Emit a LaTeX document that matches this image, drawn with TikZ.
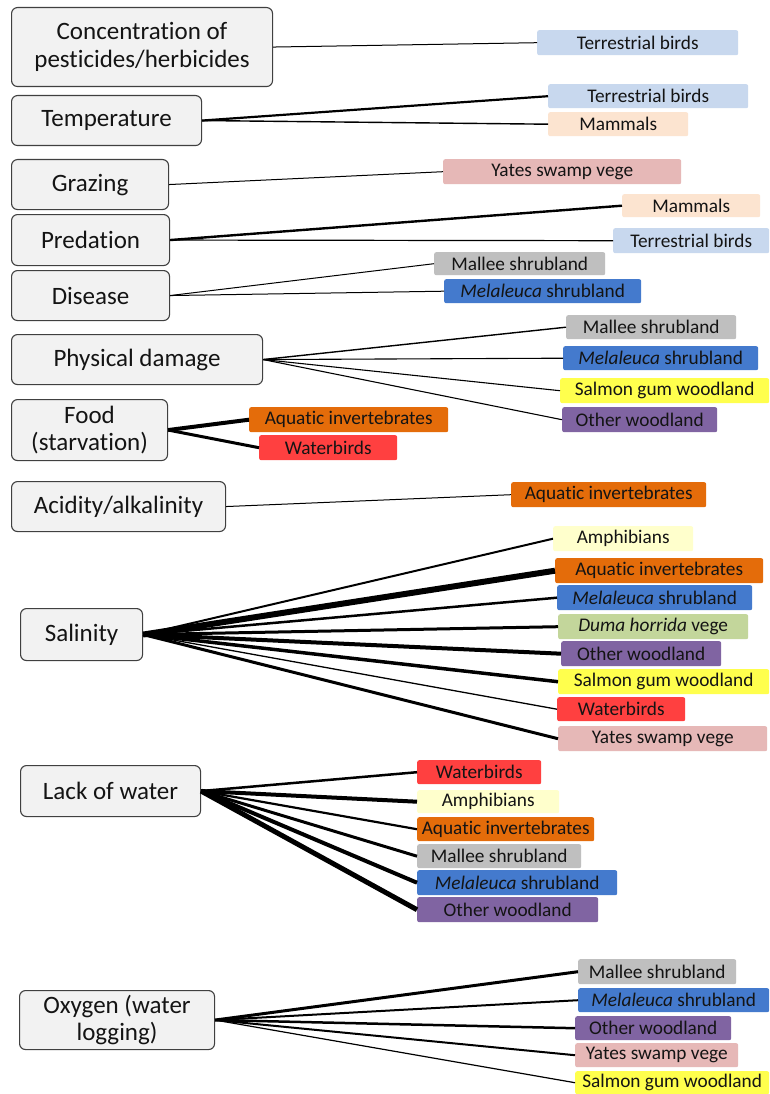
\documentclass[tikz,border=0pt]{standalone}
\usepackage{fontspec}
\setmainfont{Carlito}[Ligatures=NoCommon]
\definecolor{tbird}{RGB}{200,216,238}
\definecolor{mammal}{RGB}{252,228,208}
\definecolor{yates}{RGB}{230,184,183}
\definecolor{mallee}{RGB}{191,191,191}
\definecolor{melal}{RGB}{68,122,205}
\definecolor{salmon}{RGB}{255,255,77}
\definecolor{other}{RGB}{128,100,162}
\definecolor{aquatic}{RGB}{228,108,10}
\definecolor{waterb}{RGB}{255,64,64}
\definecolor{amph}{RGB}{255,255,204}
\definecolor{duma}{RGB}{195,214,155}
\definecolor{lfill}{RGB}{242,242,242}
\definecolor{ldraw}{RGB}{64,64,64}
\definecolor{txt}{RGB}{20,20,20}
\tikzset{
  lb/.style={draw=ldraw, fill=lfill, rounded corners=6pt, line width=1.1pt, align=center,
    font=\fontsize{25}{27.5}\selectfont, text=txt, inner sep=0pt, anchor=north west},
  rb/.style={rounded corners=2pt, inner sep=0pt, font=\fontsize{19.3}{21}\selectfont, text=txt, anchor=north west},
  cn/.style={line width=#1, black}
}
\newcommand{\lbox}[6]{\node[lb, minimum width=#3pt, minimum height=#4pt] (#1) at (#2) {#5};}
\newcommand{\rbox}[6]{\node[rb, fill=#5, minimum width=#3pt, minimum height=#4pt] (#1) at (#2) {#6};}
\begin{document}
\begin{tikzpicture}[x=1pt,y=-1pt]
\useasboundingbox (0,0) rectangle (769,1094);
\fill[white] (0,0) rectangle (769,1094);
% left boxes
\lbox{conc}{11,7}{261}{79}{Concentration of\\pesticides/herbicides}{}
\lbox{temp}{11,95}{190}{50}{Temperature}{}
\lbox{graz}{11,159}{157}{50}{Grazing}{}
\lbox{pred}{11,214}{158}{51}{Predation}{}
\lbox{dis}{11,270}{158}{50}{Disease}{}
\lbox{phys}{11,334}{251}{50}{Physical damage}{}
\lbox{food}{11,399}{156}{61}{Food\\(starvation)}{}
\lbox{acid}{11,481}{214}{50}{Acidity/alkalinity}{}
\lbox{sal}{20,608}{122}{52}{Salinity}{}
\lbox{lack}{20,765}{180}{51}{Lack of water}{}
\lbox{oxy}{19,990}{195}{59}{Oxygen (water\\logging)}{}
% right boxes
\rbox{c1}{537,30}{201}{25}{tbird}{Terrestrial birds}
\rbox{t1}{548,84}{200}{24}{tbird}{Terrestrial birds}
\rbox{t2}{548,112}{140}{24}{mammal}{Mammals}
\rbox{g1}{443,159}{238}{25}{yates}{Yates swamp vege}
\rbox{p1}{622,194}{138}{23}{mammal}{Mammals}
\rbox{p2}{613,228}{156}{25}{tbird}{Terrestrial birds}
\rbox{d1}{434,252}{171}{23}{mallee}{Mallee shrubland}
\rbox{d2}{444,279}{197}{24}{melal}{\textit{Melaleuca} shrubland}
\rbox{ph1}{566,315}{170}{24}{mallee}{Mallee shrubland}
\rbox{ph2}{563,346}{195}{24}{melal}{\textit{Melaleuca} shrubland}
\rbox{ph3}{560,378}{209}{25}{salmon}{Salmon gum woodland}
\rbox{ph4}{562,407}{155}{25}{other}{Other woodland}
\rbox{f1}{249,407}{199}{25}{aquatic}{Aquatic invertebrates}
\rbox{f2}{259,435}{138}{25}{waterb}{Waterbirds}
\rbox{a1}{511,482}{195}{25}{aquatic}{Aquatic invertebrates}
\rbox{s1}{553,526}{140}{25}{amph}{Amphibians}
\rbox{s2}{555,558}{208}{25}{aquatic}{Aquatic invertebrates}
\rbox{s3}{557,585}{195}{25}{melal}{\textit{Melaleuca} shrubland}
\rbox{s4}{558,614}{190}{25}{duma}{\textit{Duma horrida} vege}
\rbox{s5}{561,641}{160}{25}{other}{Other woodland}
\rbox{s6}{558,669}{211}{25}{salmon}{Salmon gum woodland}
\rbox{s7}{557,697}{128}{24}{waterb}{Waterbirds}
\rbox{s8}{558,726}{209}{25}{yates}{Yates swamp vege}
\rbox{l1}{417,760}{124}{24}{waterb}{Waterbirds}
\rbox{l2}{417,790}{142}{23}{amph}{Amphibians}
\rbox{l3}{417,817}{177}{24}{aquatic}{Aquatic invertebrates}
\rbox{l4}{417,844}{164}{24}{mallee}{Mallee shrubland}
\rbox{l5}{417,870}{200}{25}{melal}{\textit{Melaleuca} shrubland}
\rbox{l6}{417,897}{181}{25}{other}{Other woodland}
\rbox{o1}{578,959}{158}{25}{mallee}{Mallee shrubland}
\rbox{o2}{578,988}{191}{24}{melal}{\textit{Melaleuca} shrubland}
\rbox{o3}{575,1016}{156}{24}{other}{Other woodland}
\rbox{o4}{575,1043}{163}{24}{yates}{Yates swamp vege}
\rbox{o5}{575,1071}{194}{23}{salmon}{Salmon gum woodland}
% connectors
\draw[cn=1pt] (conc.east) -- (c1.west);
\draw[cn=2.2pt] (temp.east) -- (t1.west);
\draw[cn=1.4pt] (temp.east) -- (t2.west);
\draw[cn=1pt] (graz.east) -- (g1.west);
\draw[cn=2.4pt] (pred.east) -- (p1.west);
\draw[cn=1.2pt] (pred.east) -- (p2.west);
\draw[cn=1pt] (dis.east) -- (d1.west);
\draw[cn=1pt] (dis.east) -- (d2.west);
\draw[cn=1.4pt] (phys.east) -- (ph1.west);
\draw[cn=1.1pt] (phys.east) -- (ph2.west);
\draw[cn=1.1pt] (phys.east) -- (ph3.west);
\draw[cn=1.1pt] (phys.east) -- (ph4.west);
\draw[cn=4pt] (food.east) -- (f1.west);
\draw[cn=3pt] (food.east) -- (f2.west);
\draw[cn=1pt] (acid.east) -- (a1.west);
\draw[cn=2pt] (sal.east) -- (s1.west);
\draw[cn=6pt] (sal.east) -- (s2.west);
\draw[cn=2.5pt] (sal.east) -- (s3.west);
\draw[cn=3pt] (sal.east) -- (s4.west);
\draw[cn=4pt] (sal.east) -- (s5.west);
\draw[cn=3.5pt] (sal.east) -- (s6.west);
\draw[cn=1.3pt] (sal.east) -- (s7.west);
\draw[cn=3pt] (sal.east) -- (s8.west);
\draw[cn=2.5pt] (lack.east) -- (l1.west);
\draw[cn=4pt] (lack.east) -- (l2.west);
\draw[cn=2.2pt] (lack.east) -- (l3.west);
\draw[cn=3pt] (lack.east) -- (l4.west);
\draw[cn=4pt] (lack.east) -- (l5.west);
\draw[cn=5pt] (lack.east) -- (l6.west);
\draw[cn=3pt] (oxy.east) -- (o1.west);
\draw[cn=2pt] (oxy.east) -- (o2.west);
\draw[cn=2.5pt] (oxy.east) -- (o3.west);
\draw[cn=2pt] (oxy.east) -- (o4.west);
\draw[cn=1.2pt] (oxy.east) -- (o5.west);
\end{tikzpicture}
\end{document}
